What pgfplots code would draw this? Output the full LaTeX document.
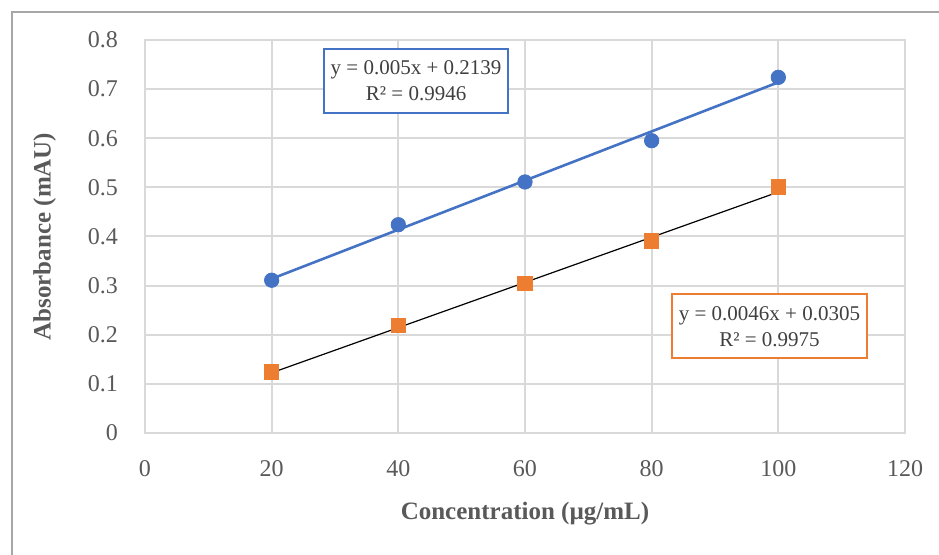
\documentclass[border=0pt]{standalone}
\usepackage{fontspec}
\setmainfont{Liberation Serif}
\usepackage{pgfplots}
\pgfplotsset{compat=1.18}
\definecolor{xlBlue}{HTML}{4472C4}
\definecolor{xlOrange}{HTML}{ED7D31}
\definecolor{xlGrid}{HTML}{D9D9D9}
\definecolor{xlText}{HTML}{595959}
\definecolor{xlBoxText}{HTML}{404040}

\begin{document}
\begin{tikzpicture}
\useasboundingbox (0,0) rectangle (469.5pt,277.5pt);
\draw[color=black!35, line width=0.6pt] (6pt,0) -- (6pt,271.5pt) -- (469.5pt,271.5pt);
\begin{axis}[
    at={(72.5pt,61pt)}, anchor=south west,
    scale only axis,
    width=380pt, height=196.5pt,
    xmin=0, xmax=120, ymin=0, ymax=0.8,
    xtick={0,20,...,120},
    ytick={0,0.1,...,0.8},
    yticklabels={0,0.1,0.2,0.3,0.4,0.5,0.6,0.7,0.8},
    grid=major,
    major grid style={xlGrid, line width=1pt},
    axis line style={xlGrid, line width=1pt},
    tick style={draw=none},
    /pgf/number format/assume math mode=true,
    tick label style={font=\fontsize{12}{14}\selectfont, text=xlText},
    yticklabel style={xshift=-10pt},
    xticklabel style={yshift=-10pt},
    xlabel={Concentration (µg/mL)},
    ylabel={Absorbance (mAU)},
    label style={font=\bfseries\fontsize{12.5}{14}\selectfont, text=xlText},
    xlabel style={at={(axis description cs:0.5,-0.204)}, anchor=center},
    ylabel style={at={(axis description cs:-0.132,0.5)}, anchor=center, rotate=0},
    clip=false,
]
% fitted trendlines (endpoints of y = a x + b)
\addplot[xlBlue, line width=1.3pt] coordinates {(20,0.3139) (100,0.7139)};
\addplot[black, line width=0.6pt] coordinates {(20,0.1225) (100,0.4905)};
% measured points
\addplot[only marks, mark=*, mark size=3.6pt, color=xlBlue, fill=xlBlue]
    coordinates {(20,0.311) (40,0.424) (60,0.511) (80,0.595) (100,0.724)};
\addplot[only marks, mark=square*, mark size=3.6pt, color=xlOrange, fill=xlOrange]
    coordinates {(20,0.124) (40,0.219) (60,0.305) (80,0.391) (100,0.501)};
% equation boxes
\node[draw=xlBlue, line width=1pt, fill=white, text=xlBoxText, align=center,
      font=\fontsize{10.5}{13}\selectfont, minimum width=91pt, minimum height=32pt]
    at (axis cs:42.8,0.7166) {y = 0.005x + 0.2139\\R² = 0.9946};
\node[draw=xlOrange, line width=1pt, fill=white, text=xlBoxText, align=center,
      font=\fontsize{10.5}{13}\selectfont, minimum width=96pt, minimum height=32pt]
    at (axis cs:98.6,0.2168) {y = 0.0046x + 0.0305\\R² = 0.9975};
\end{axis}
\end{tikzpicture}
\end{document}
